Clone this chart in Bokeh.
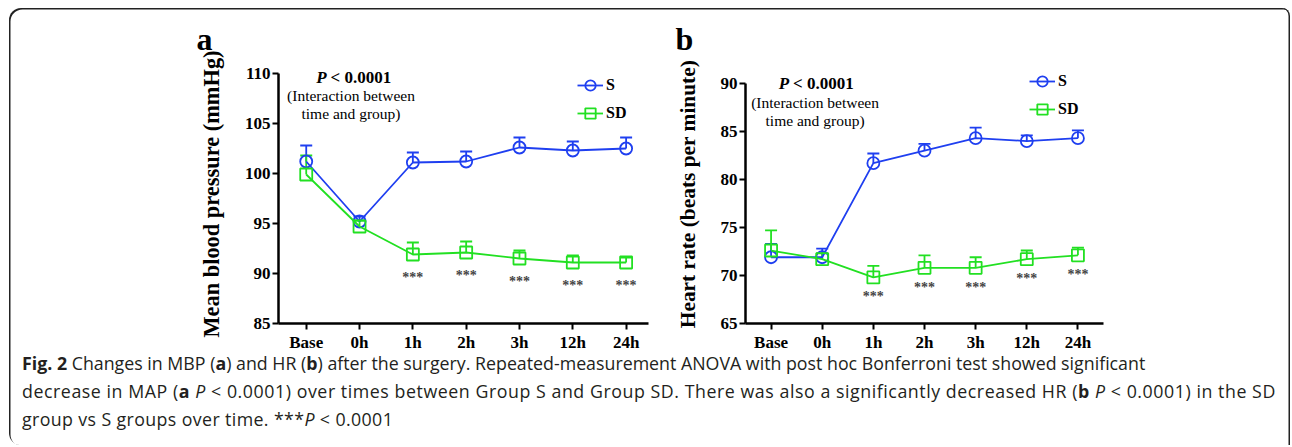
from bokeh.plotting import figure
from bokeh.models import (FixedTicker, Whisker, TeeHead, ColumnDataSource, Legend,
                          LegendItem, Div, Range1d, Title)
from bokeh.layouts import row, column
from bokeh.core.properties import value
from bokeh.embed import file_html
from bokeh.resources import INLINE

# ---------------- data ----------------
times = ["Base", "0h", "1h", "2h", "3h", "12h", "24h"]

mbp_s = [101.2, 95.2, 101.1, 101.2, 102.6, 102.3, 102.5]
mbp_s_err = [1.6, 0.5, 1.0, 1.0, 1.0, 0.9, 1.1]
mbp_sd = [99.9, 94.7, 91.9, 92.1, 91.5, 91.1, 91.1]
mbp_sd_err = [1.9, 0.6, 1.2, 1.1, 0.8, 0.7, 0.5]

hr_s = [71.9, 71.9, 81.7, 83.0, 84.3, 84.0, 84.3]
hr_s_err = [1.4, 0.9, 1.0, 0.7, 1.1, 0.6, 0.8]
hr_sd = [72.6, 71.7, 69.8, 70.8, 70.8, 71.7, 72.1]
hr_sd_err = [2.1, 0.6, 1.2, 1.3, 1.1, 0.9, 0.8]

significant = [False, False, True, True, True, True, True]

mbp_ticks = [85, 90, 95, 100, 105, 110]
hr_ticks = [65, 70, 75, 80, 85, 90]

BLUE = "#1f3ff0"
GREEN = "#22e022"
SERIF = "Liberation Serif"


def panel(letter, letter_off, ylabel, ylabel_size, s_mean, s_err, sd_mean, sd_err,
          yticks, ytop, xr, width, mbl, mbr, star_off, ann, leg):
    p = figure(width=width, height=346, output_backend="svg", toolbar_location=None,
               x_range=Range1d(*xr), y_range=Range1d(yticks[0], ytop),
               min_border_left=mbl, min_border_right=mbr,
               min_border_top=56, min_border_bottom=30)
    title = Title(text=letter, align="left", offset=letter_off, text_font=SERIF,
                  text_font_style="bold", text_font_size="32px", text_color="black")
    if "standoff" in Title.properties():
        title.standoff = 16
    p.title = title
    p.outline_line_color = None
    p.grid.visible = False
    p.background_fill_color = None
    p.border_fill_color = None

    p.xaxis.ticker = FixedTicker(ticks=list(range(len(times))))
    p.xaxis.major_label_overrides = {i: t for i, t in enumerate(times)}
    p.yaxis.ticker = FixedTicker(ticks=yticks)
    p.yaxis.bounds = (yticks[0], yticks[-1])
    for ax in (p.xaxis, p.yaxis):
        ax.axis_line_width = 2.5
        ax.axis_line_color = "black"
        ax.major_tick_line_width = 2
        ax.major_tick_out = 6
        ax.major_tick_in = 0
        ax.minor_tick_line_color = None
        ax.major_label_text_font = SERIF
        ax.major_label_text_font_style = "bold"
        ax.major_label_text_font_size = "17px"
        ax.major_label_text_color = "black"
    p.xaxis.major_label_standoff = 3
    p.yaxis.major_label_standoff = 2
    p.yaxis.axis_label = ylabel
    p.yaxis.axis_label_text_font = SERIF
    p.yaxis.axis_label_text_font_style = "bold"
    p.yaxis.axis_label_text_font_size = ylabel_size
    p.yaxis.axis_label_text_color = "black"
    p.yaxis.axis_label_standoff = 18

    xs = list(range(len(times)))
    renderers = {}
    for name, mean, err, color, marker in (("S", s_mean, s_err, BLUE, "circle"),
                                           ("SD", sd_mean, sd_err, GREEN, "square")):
        src = ColumnDataSource(dict(x=xs, y=mean, upper=[m + e for m, e in zip(mean, err)]))
        wh = Whisker(base="x", lower="y", upper="upper", source=src,
                     line_color=color, line_width=1.8,
                     upper_head=TeeHead(size=12, line_color=color, line_width=1.8),
                     lower_head=None)
        p.add_layout(wh)
        ln = p.line("x", "y", source=src, line_color=color, line_width=1.8)
        sc = p.scatter("x", "y", source=src, marker=marker, size=12,
                       fill_color=None, line_color=color, line_width=1.8)
        renderers[name] = [ln, sc]

    sx = [i for i, s in enumerate(significant) if s]
    sy = [sd_mean[i] - star_off for i in sx]
    p.text(x=sx, y=sy, text=["***"] * len(sx), text_align="center",
           text_baseline="middle", text_font=value(SERIF), text_font_style="bold",
           text_font_size="14px", text_color="#444444")

    # annotation text
    px, py, lx, ly1, ly2 = ann
    p.text(x=[px], y=[py], text=["P"], text_align="right", text_baseline="middle",
           x_offset=-2, text_font=value(SERIF), text_font_style="bold italic",
           text_font_size="17px", text_color="black")
    p.text(x=[px], y=[py], text=["< 0.0001"], text_align="left", text_baseline="middle",
           x_offset=2, text_font=value(SERIF), text_font_style="bold",
           text_font_size="17px", text_color="black")
    p.text(x=[lx, lx], y=[ly1, ly2], text=["(Interaction between", "time and group)"],
           text_align="center", text_baseline="middle", text_font=value(SERIF),
           text_font_size="15.5px", text_color="black")

    margin, lwidth = leg
    legend = Legend(items=[LegendItem(label="S", renderers=renderers["S"]),
                           LegendItem(label="SD", renderers=renderers["SD"])],
                    location="top_right", margin=margin, padding=0, spacing=2,
                    glyph_width=26, glyph_height=26, label_height=26,
                    label_width=lwidth, label_standoff=3,
                    label_text_font=SERIF, label_text_font_style="bold",
                    label_text_font_size="16px", label_text_color="black",
                    background_fill_alpha=0, border_line_alpha=0)
    p.add_layout(legend)
    return p


pa = panel("a", -82, "Mean blood pressure (mmHg)", "22.4px", mbp_s, mbp_s_err, mbp_sd,
           mbp_sd_err, mbp_ticks, 110.9, (-0.52, 6.42), 651, 269, 12, 2.3,
           (0.42, 109.6, 0.84, 107.8, 106.0), (8, 34))
pb = panel("b", -70, "Heart rate (beats per minute)", "21.4px", hr_s, hr_s_err, hr_sd,
           hr_sd_err, hr_ticks, 91.97, (-0.5, 6.5), 630, 85, 187, 2.0,
           (0.39, 90.0, 0.86, 88.0, 86.15), (4, 41))

lt = '<span style="display:block; letter-spacing:{ls}px">{t}</span>'
caption = ('<div style="margin-top:-5px; line-height:28px; padding-left:13px; '
           'font-family:\'Open Sans\'; font-size:17.8px; color:#231f20; white-space:nowrap">'
           + lt.format(ls=0, t='<b>Fig. 2</b> Changes in MBP (<b>a</b>) and HR (<b>b</b>) after the surgery. '
                       'Repeated-measurement ANOVA with post hoc Bonferroni test showed significant')
           + lt.format(ls=0.55, t='decrease in MAP (<b>a</b> <i>P</i>&nbsp;&lt;&nbsp;0.0001) over times between '
                       'Group S and Group SD. There was also a significantly decreased HR '
                       '(<b>b</b> <i>P</i>&nbsp;&lt;&nbsp;0.0001) in the SD')
           + lt.format(ls=0.38, t='group vs S groups over time. ***<i>P</i>&nbsp;&lt;&nbsp;0.0001')
           + '</div>')
div = Div(text=caption, width=1281, height=91, margin=0)

layout = column(row(pa, pb), div, margin=(8, 0, 0, 9),
                styles={"border-radius": "12px 8px 0 12px",
                        "box-shadow": "inset 1.5px 1.5px 0 0 #222, inset -1.5px 0 0 0 #222"})

open("out.html", "w").write(file_html(layout, INLINE))
